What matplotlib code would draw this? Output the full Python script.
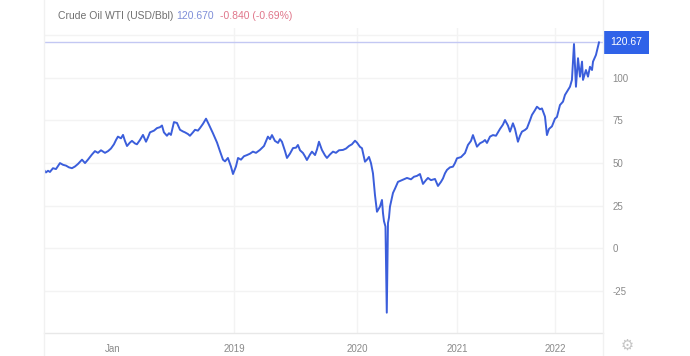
import numpy as np
import matplotlib
matplotlib.use("Agg")
import matplotlib.pyplot as plt
from matplotlib.lines import Line2D

plt.rcParams['font.family'] = ['Liberation Sans', 'DejaVu Sans']

# ---- data (time in decimal years, WTI price USD/bbl) ----
t_years = [
    2017.430, 2017.446, 2017.463, 2017.479, 2017.504, 2017.529, 2017.562, 2017.587,
    2017.612, 2017.636, 2017.661, 2017.686, 2017.711, 2017.744, 2017.769, 2017.793,
    2017.826, 2017.851, 2017.876, 2017.901, 2017.934, 2017.959, 2017.983, 2018.008,
    2018.025, 2018.041, 2018.066, 2018.083, 2018.099, 2018.116, 2018.140, 2018.157,
    2018.182, 2018.198, 2018.223, 2018.248, 2018.273, 2018.289, 2018.306, 2018.339,
    2018.364, 2018.388, 2018.405, 2018.421, 2018.446, 2018.463, 2018.479, 2018.504,
    2018.529, 2018.554, 2018.579, 2018.595, 2018.620, 2018.636, 2018.661, 2018.678,
    2018.702, 2018.719, 2018.744, 2018.769, 2018.793, 2018.826, 2018.860, 2018.884,
    2018.909, 2018.926, 2018.950, 2018.975, 2018.992, 2019.016, 2019.033, 2019.057,
    2019.081, 2019.106, 2019.130, 2019.154, 2019.179, 2019.211, 2019.244, 2019.276,
    2019.293, 2019.309, 2019.333, 2019.358, 2019.374, 2019.390, 2019.415, 2019.431,
    2019.455, 2019.480, 2019.504, 2019.520, 2019.537, 2019.561, 2019.577, 2019.593,
    2019.618, 2019.634, 2019.659, 2019.675, 2019.691, 2019.715, 2019.740, 2019.756,
    2019.780, 2019.805, 2019.829, 2019.854, 2019.886, 2019.911, 2019.935, 2019.959,
    2019.984, 2020.000, 2020.030, 2020.050, 2020.080, 2020.100, 2020.120, 2020.140,
    2020.160, 2020.180, 2020.200, 2020.215, 2020.230, 2020.250, 2020.260, 2020.270,
    2020.285, 2020.298, 2020.310, 2020.320, 2020.330, 2020.360, 2020.380, 2020.410,
    2020.450, 2020.500, 2020.540, 2020.570, 2020.600, 2020.630, 2020.660, 2020.690,
    2020.710, 2020.740, 2020.780, 2020.810, 2020.840, 2020.860, 2020.880, 2020.900,
    2020.930, 2020.960, 2020.980, 2021.000, 2021.041, 2021.082, 2021.112, 2021.143,
    2021.163, 2021.184, 2021.204, 2021.235, 2021.265, 2021.286, 2021.306, 2021.337,
    2021.367, 2021.398, 2021.439, 2021.469, 2021.490, 2021.520, 2021.541, 2021.571,
    2021.592, 2021.622, 2021.643, 2021.663, 2021.694, 2021.714, 2021.745, 2021.765,
    2021.796, 2021.816, 2021.847, 2021.867, 2021.898, 2021.918, 2021.939, 2021.969,
    2022.000, 2022.020, 2022.051, 2022.082, 2022.102, 2022.122, 2022.153, 2022.173,
    2022.194, 2022.214, 2022.235, 2022.255, 2022.276, 2022.286, 2022.316, 2022.337,
    2022.357, 2022.378, 2022.388, 2022.418, 2022.449,
]
price = [
    46.0, 44.5, 45.5, 44.8, 47.0, 46.5, 50.0, 49.0,
    48.5, 47.5, 47.0, 48.0, 49.5, 52.0, 50.0, 52.0,
    55.0, 57.0, 56.0, 57.5, 56.0, 57.0, 58.5, 61.0,
    63.5, 65.5, 64.5, 66.5, 63.0, 60.0, 62.0, 63.0,
    61.5, 61.0, 63.5, 66.5, 62.5, 65.0, 68.0, 69.0,
    70.5, 71.0, 72.0, 68.0, 66.0, 67.5, 66.5, 74.0,
    73.5, 69.5, 68.5, 68.0, 67.0, 66.0, 68.0, 69.5,
    69.0, 70.5, 73.0, 76.0, 72.5, 67.5, 62.0, 57.0,
    52.0, 51.0, 53.0, 48.0, 43.6, 48.0, 53.0, 52.0,
    54.0, 54.7, 55.5, 56.7, 56.0, 57.7, 60.0, 65.5,
    64.0, 66.4, 63.0, 61.8, 64.0, 62.5, 57.0, 53.0,
    55.5, 58.8, 59.0, 60.6, 57.5, 55.9, 54.0, 51.8,
    55.0, 56.7, 54.7, 58.0, 62.5, 57.7, 54.5, 53.0,
    55.0, 56.7, 56.0, 57.5, 57.7, 58.5, 60.0, 61.0,
    63.1, 62.0, 59.5, 58.7, 50.8, 52.0, 53.6, 50.0,
    44.0, 31.3, 21.5, 23.0, 24.5, 28.4, 20.8, 16.0,
    12.8, -37.6, 14.9, 18.0, 24.5, 32.5, 35.0, 39.0,
    40.0, 41.3, 40.5, 42.0, 42.5, 43.6, 37.8, 40.0,
    41.3, 40.0, 40.7, 36.6, 39.0, 41.0, 44.0, 46.0,
    47.5, 47.9, 50.0, 52.8, 53.5, 55.9, 60.6, 63.0,
    66.4, 63.0, 59.6, 61.6, 62.5, 63.5, 61.8, 65.5,
    66.4, 66.0, 70.0, 72.5, 75.2, 72.0, 68.4, 73.3,
    70.0, 62.5, 66.0, 68.4, 69.4, 70.4, 75.0, 78.2,
    81.0, 83.0, 81.5, 82.0, 77.2, 66.4, 70.0, 71.5,
    76.0, 77.0, 84.0, 86.0, 89.9, 91.8, 94.7, 98.7,
    119.7, 94.7, 111.4, 100.6, 109.4, 98.7, 104.5, 100.6,
    106.4, 104.5, 109.4, 113.3, 120.67,
]
tick_years = [2018, 2019, 2020, 2021, 2022]
tick_labels = ['Jan', '2019', '2020', '2021', '2022']
y_ticks = [-25, 0, 25, 50, 75, 100, 125]

title_name = 'Crude Oil WTI (USD/Bbl)'
title_price = '120.670'
title_change = '-0.840 (-0.69%)'
last_value = price[-1]

# ---- time scale of the original chart (uneven year widths) ----
_YK = [2016.0, 2018.0, 2019.0, 2020.0, 2021.0, 2022.0, 2024.0]
_PK = [-129.0, 113.0, 234.0, 357.0, 457.0, 555.0, 751.0]

def _fwd(t):
    return np.interp(t, _YK, _PK)

def _inv(p):
    return np.interp(p, _PK, _YK)

LINE = '#3b5edb'
GRID = '#f3f3f3'
TXT = '#8a8a8a'

fig = plt.figure(figsize=(6.9, 3.56), dpi=100)
ax = fig.add_axes([44 / 690, 23 / 356, (603 - 44) / 690, (333 - 28) / 356])
ax.set_xscale('function', functions=(_fwd, _inv))

ax.plot(t_years, price, color=LINE, lw=1.4, zorder=3, solid_joinstyle='round')
ax.axhline(last_value, color='#c3c8f3', lw=1.0, zorder=2)

ax.set_xlim(2017.43, 2022.49)
ax.set_ylim(-49.5, 129.1)

ax.set_xticks(tick_years)
ax.set_xticklabels(tick_labels)
ax.set_yticks(y_ticks)
ax.set_yticklabels([str(v) for v in y_ticks])
ax.xaxis.set_minor_locator(matplotlib.ticker.NullLocator())

ax.yaxis.tick_right()
ax.tick_params(axis='y', length=0, pad=7, labelsize=7, labelcolor=TXT)
ax.tick_params(axis='x', length=0, pad=8, labelsize=7, labelcolor=TXT)
for lab in ax.get_yticklabels():
    lab.set_horizontalalignment('left')

ax.grid(True, color=GRID, lw=1.0, zorder=0)
ax.set_axisbelow(True)
ax.get_xgridlines()[0].set_visible(False)

for s in ['top', 'left', 'right']:
    ax.spines[s].set_visible(False)
ax.spines['bottom'].set_color('#e8e8e8')
ax.spines['bottom'].set_linewidth(1.0)

# full-height frame lines
for xf in (44 / 690, 603 / 690):
    fig.add_artist(Line2D([xf, xf], [0, 1], transform=fig.transFigure,
                          color='#f1f1f1', lw=1.0))

# price tag
ax.annotate(f'{last_value:.2f}', xy=(1, last_value), xycoords=ax.get_yaxis_transform(),
            xytext=(5.5, 0), textcoords='offset points', ha='left', va='center',
            fontsize=7.5, color='white', zorder=10, annotation_clip=False,
            bbox=dict(boxstyle='square,pad=0.65', fc='#2f62e8', ec='none'))

# title pieces
t1 = fig.text(58 / 690, 1 - 16 / 356, title_name, fontsize=7.5, color='#6f6f6f',
              ha='left', va='center')
t2 = fig.text(0, 0, title_price, fontsize=7.5, color='#7e8ed8', ha='left', va='center')
t3 = fig.text(0, 0, title_change, fontsize=7.5, color='#e0768a', ha='left', va='center')
fig.canvas.draw()
r = fig.canvas.get_renderer()
bb1 = t1.get_window_extent(r)
t2.set_position(((bb1.x1 + 3) / fig.bbox.width, 1 - 16 / 356))
bb2 = t2.get_window_extent(r)
t3.set_position(((bb2.x1 + 6) / fig.bbox.width, 1 - 16 / 356))

# settings gear
fig.text(627 / 690, 1 - 345 / 356, '\u2699', fontsize=10.5, color='#c4c4c4',
         ha='center', va='center', family='DejaVu Sans')

fig.savefig('out.png', dpi=100, facecolor='white')
